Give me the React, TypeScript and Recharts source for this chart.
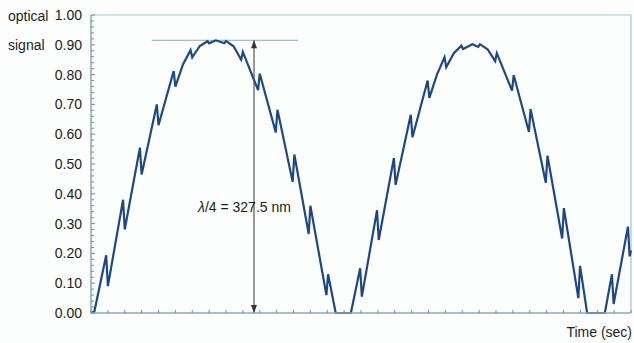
import React from 'react';
import { LineChart, Line, XAxis, YAxis, ReferenceLine } from 'recharts';

// time in tick units, optical signal (normalised)
const time = [
  0, 0.2, 0.9, 1.0, 1.9, 2.0, 2.9, 3.0, 3.9, 4.0, 4.9, 5.0, 5.45, 5.9, 6.0, 6.45, 6.9, 7.0, 7.4,
  7.9, 8.0, 8.45, 8.9, 9.0, 9.9, 10.0, 10.95, 11.05, 11.95, 12.05, 12.9, 13.0, 13.95, 14.05, 14.5,
  15.4, 15.95, 16.05, 16.95, 17.05, 17.95, 18.05, 18.95, 19.05, 19.95, 20.05, 20.5, 20.95, 21.05,
  21.5, 21.95, 22.05, 22.6, 22.95, 23.05, 23.5, 23.95, 24.05, 24.95, 25.05, 25.95, 26.05, 26.95, 27.05,
  27.92, 28.02, 28.88, 28.98, 29.4, 30.45, 30.87, 30.97, 31.82, 31.92, 32,
];
const signal = [
  0, 0.005, 0.194, 0.09, 0.38, 0.28, 0.555, 0.465, 0.7, 0.63, 0.812, 0.76, 0.834, 0.882, 0.858, 0.896, 0.912, 0.905, 0.915,
  0.905, 0.913, 0.895, 0.85, 0.876, 0.748, 0.803, 0.606, 0.682, 0.44, 0.532, 0.265, 0.36, 0.06, 0.13, 0,
  0, 0.15, 0.055, 0.345, 0.245, 0.52, 0.43, 0.665, 0.59, 0.78, 0.722, 0.8, 0.858, 0.825,
  0.872, 0.897, 0.886, 0.902, 0.893, 0.902, 0.885, 0.845, 0.872, 0.746, 0.798, 0.608, 0.684, 0.437, 0.528,
  0.25, 0.352, 0.05, 0.158, 0, 0, 0.13, 0.03, 0.29, 0.19, 0.21,
];

const xTicks = [
  0, 1, 2, 3, 4, 5, 6, 7, 8, 9, 10, 11, 12, 13, 14, 15, 16,
  17, 18, 19, 20, 21, 22, 23, 24, 25, 26, 27, 28, 29, 30, 31, 32,
];
const yTicks = [
  0, 0.02, 0.04, 0.06, 0.08, 0.1, 0.12, 0.14, 0.16, 0.18, 0.2, 0.22, 0.24, 0.26, 0.28,
  0.3, 0.32, 0.34, 0.36, 0.38, 0.4, 0.42, 0.44, 0.46, 0.48, 0.5, 0.52, 0.54, 0.56, 0.58,
  0.6, 0.62, 0.64, 0.66, 0.68, 0.7, 0.72, 0.74, 0.76, 0.78, 0.8, 0.82, 0.84, 0.86, 0.88,
  0.9, 0.92, 0.94, 0.96, 0.98, 1.0,
];

const peakLevel = 0.915;
const arrowTime = 9.66;
const peakLineStart = 3.6;
const peakLineEnd = 12.27;

const data = time.map((t, i) => ({ t, v: signal[i] }));

const font = '"Liberation Sans", Arial, sans-serif';
const axisColor = '#8aa9b3';

const isMajor = (v: number) => Math.abs(v * 10 - Math.round(v * 10)) < 1e-6;

const XTick = (props: any) => (
  <line x1={props.x} x2={props.x} y1={props.y} y2={props.y - 3} stroke="#6f929d" strokeWidth={1} />
);

const YTick = (props: any) => {
  const v = props.payload.value;
  const major = isMajor(v);
  return (
    <g>
      <line x1={props.x} x2={props.x + (major ? 4 : 3)} y1={props.y} y2={props.y} stroke="#6f929d" strokeWidth={1} />
      {major && (
        <text x={props.x - 9} y={props.y} dy={5} textAnchor="end" fontSize={14} fontFamily={font} fill="#1e1e1e">
          {v.toFixed(2)}
        </text>
      )}
    </g>
  );
};

const ArrowShape = (props: any) => {
  const x = props.x1;
  const top = Math.min(props.y1, props.y2);
  const bottom = Math.max(props.y1, props.y2);
  return (
    <g>
      <line x1={x} x2={x} y1={top} y2={bottom} stroke="#555" strokeWidth={1.2} />
      <polygon points={`${x},${top} ${x - 3},${top + 8} ${x + 3},${top + 8}`} fill="#333" />
      <polygon points={`${x},${bottom} ${x - 3},${bottom - 8} ${x + 3},${bottom - 8}`} fill="#333" />
    </g>
  );
};

const textStyle: React.CSSProperties = {
  position: 'absolute',
  fontFamily: font,
  fontSize: 14,
  lineHeight: '16px',
  color: '#1e1e1e',
  whiteSpace: 'nowrap',
};

export default function App() {
  return (
    <div style={{ position: 'fixed', left: 0, top: 0, width: 634, height: 343, background: '#fcfdfd' }}>
      <LineChart width={634} height={343} data={data} margin={{ top: 15, right: 3, left: 0, bottom: 0 }}>
        <XAxis
          dataKey="t"
          type="number"
          domain={[0, 32]}
          ticks={xTicks}
          interval={0}
          height={30}
          tickSize={0}
          tickMargin={0}
          tickLine={false}
          tick={<XTick />}
          axisLine={{ stroke: axisColor, strokeWidth: 1.5 }}
        />
        <YAxis
          type="number"
          domain={[0, 1]}
          ticks={yTicks}
          interval={0}
          width={91}
          tickSize={0}
          tickMargin={0}
          tickLine={false}
          tick={<YTick />}
          axisLine={{ stroke: axisColor, strokeWidth: 1.5 }}
        />
        <ReferenceLine y={1} stroke="#a9c3cb" strokeWidth={1.2} />
        <ReferenceLine x={32} stroke="#a9c3cb" strokeWidth={1.2} />
        <ReferenceLine
          segment={[{ x: peakLineStart, y: peakLevel }, { x: peakLineEnd, y: peakLevel }]}
          stroke="#a3c0c9"
          strokeWidth={1.2}
        />
        <Line
          type="linear"
          dataKey="v"
          stroke="#1f4788"
          strokeWidth={2.2}
          dot={false}
          isAnimationActive={false}
        />
        <ReferenceLine
          segment={[{ x: arrowTime, y: 0 }, { x: arrowTime, y: peakLevel }]}
          shape={<ArrowShape />}
        />
      </LineChart>
      <div style={{ ...textStyle, left: 8, top: 8 }}>optical</div>
      <div style={{ ...textStyle, left: 8, top: 37 }}>signal</div>
      <div style={{ ...textStyle, right: 2, top: 324 }}>Time (sec)</div>
      <div style={{ ...textStyle, left: 198, top: 199 }}>
        <i>λ</i>/4 = 327.5 nm
      </div>
    </div>
  );
}
